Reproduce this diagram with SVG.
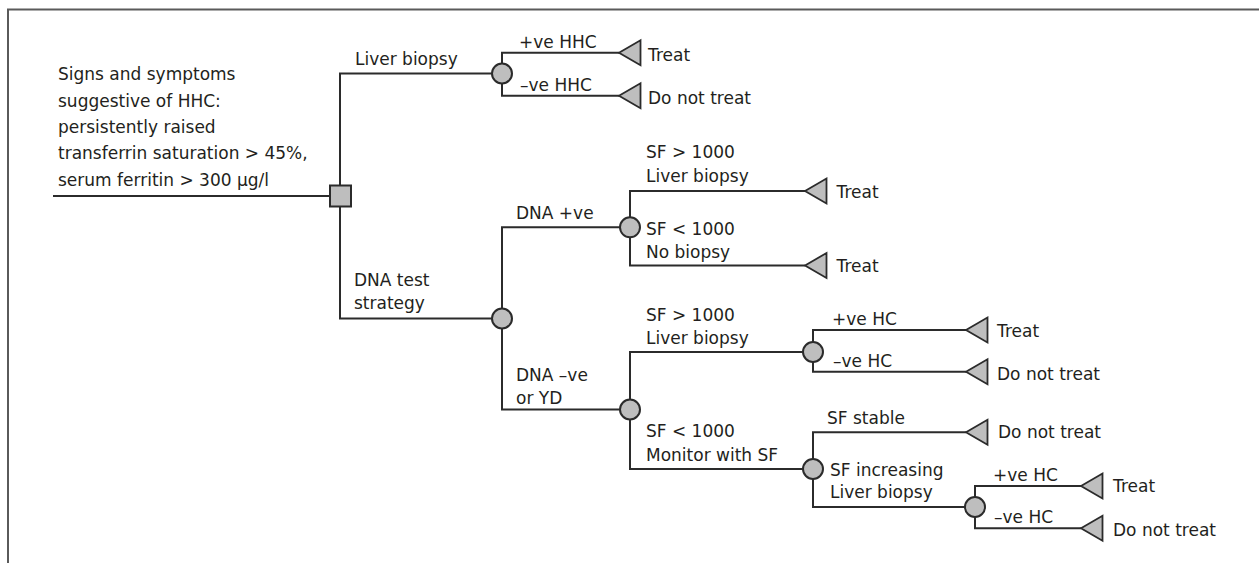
<svg xmlns="http://www.w3.org/2000/svg" width="1259" height="563" viewBox="0 0 1259 563">
<style>
.t{font-family:"DejaVu Sans",Verdana,sans-serif;font-size:17px;fill:#231f20}
.c{fill:none;stroke:#2b2b2b;stroke-width:2}
.chance{fill:#bebebe;stroke:#2b2b2b;stroke-width:2}
.term{fill:#bebebe;stroke:#2b2b2b;stroke-width:1.8;stroke-linejoin:miter}
.frame{fill:none;stroke:#5a5a5a;stroke-width:2}
</style>
<defs>
<polygon id="tri" points="0,0 21.5,-12.5 21.5,12.5"/>
</defs>
<rect width="1259" height="563" fill="#ffffff"/>
<path class="frame" d="M8,563 V9.5 H1259"/>

<g id="connectors">
<path class="c" d="M53,196 H340"/>
<path class="c" d="M340,196 V73.5 H502"/>
<path class="c" d="M340,196 V318.5 H502"/>
<path class="c" d="M502,73.5 V52.7 H619"/>
<path class="c" d="M502,73.5 V95.7 H619"/>
<path class="c" d="M502,318.5 V227.3 H630"/>
<path class="c" d="M502,318.5 V409.5 H630"/>
<path class="c" d="M630,227.3 V191 H805"/>
<path class="c" d="M630,227.3 V265.5 H805"/>
<path class="c" d="M630,409.5 V352 H813"/>
<path class="c" d="M630,409.5 V469 H813"/>
<path class="c" d="M813,352 V330 H966"/>
<path class="c" d="M813,352 V371.7 H966"/>
<path class="c" d="M813,469 V432.3 H966"/>
<path class="c" d="M813,469 V507 H975"/>
<path class="c" d="M975,507 V486 H1081"/>
<path class="c" d="M975,507 V528.3 H1081"/>
<g class="t">
<text x="355" y="65">Liver biopsy</text>
<text x="354" y="286">DNA test</text>
<text x="354" y="309">strategy</text>
<text x="519" y="48">+ve HHC</text>
<text x="520" y="91">–ve HHC</text>
<text x="516" y="219">DNA +ve</text>
<text x="516" y="381">DNA –ve</text>
<text x="516" y="404">or YD</text>
<text x="646" y="158">SF &gt; 1000</text>
<text x="646" y="181.5">Liver biopsy</text>
<text x="646" y="235">SF &lt; 1000</text>
<text x="646" y="258">No biopsy</text>
<text x="646" y="321">SF &gt; 1000</text>
<text x="646" y="344">Liver biopsy</text>
<text x="646" y="436.5">SF &lt; 1000</text>
<text x="646" y="460.5">Monitor with SF</text>
<text x="832" y="325">+ve HC</text>
<text x="833" y="367">–ve HC</text>
<text x="827" y="424">SF stable</text>
<text x="830" y="476">SF increasing</text>
<text x="830" y="498">Liver biopsy</text>
<text x="993" y="480.5">+ve HC</text>
<text x="994" y="523">–ve HC</text>
</g>
</g>

<g id="start" class="t">
<text x="58" y="80">Signs and symptoms</text>
<text x="58" y="106.5">suggestive of HHC:</text>
<text x="58" y="132.8">persistently raised</text>
<text x="58" y="159.2">transferrin saturation &gt; 45%,</text>
<text x="58" y="185.6">serum ferritin &gt; 300 μg/l</text>
</g>

<g id="decision"><rect x="330" y="185.5" width="21" height="21" class="chance"/></g>

<g id="chance1"><circle cx="502" cy="73.5" r="10" class="chance"/></g>
<g id="chance2"><circle cx="502" cy="318.5" r="10" class="chance"/></g>
<g id="chance3"><circle cx="630" cy="227.3" r="10" class="chance"/></g>
<g id="chance4"><circle cx="630" cy="409.5" r="10" class="chance"/></g>
<g id="chance5"><circle cx="813" cy="352" r="10" class="chance"/></g>
<g id="chance6"><circle cx="813" cy="469" r="10" class="chance"/></g>
<g id="chance7"><circle cx="975" cy="507" r="10" class="chance"/></g>

<g id="term1"><use href="#tri" x="619" y="52.7" class="term"/><text class="t" x="648" y="60.5">Treat</text></g>
<g id="term2"><use href="#tri" x="619" y="95.7" class="term"/><text class="t" x="648" y="104">Do not treat</text></g>
<g id="term3"><use href="#tri" x="805" y="191" class="term"/><text class="t" x="836.5" y="198.3">Treat</text></g>
<g id="term4"><use href="#tri" x="805" y="265.5" class="term"/><text class="t" x="836.5" y="271.7">Treat</text></g>
<g id="term5"><use href="#tri" x="966" y="330" class="term"/><text class="t" x="997" y="336.7">Treat</text></g>
<g id="term6"><use href="#tri" x="966" y="371.7" class="term"/><text class="t" x="997" y="380">Do not treat</text></g>
<g id="term7"><use href="#tri" x="966" y="432.3" class="term"/><text class="t" x="998" y="438.3">Do not treat</text></g>
<g id="term8"><use href="#tri" x="1081" y="486" class="term"/><text class="t" x="1113" y="492.3">Treat</text></g>
<g id="term9"><use href="#tri" x="1081" y="528.3" class="term"/><text class="t" x="1113" y="536">Do not treat</text></g>
</svg>
